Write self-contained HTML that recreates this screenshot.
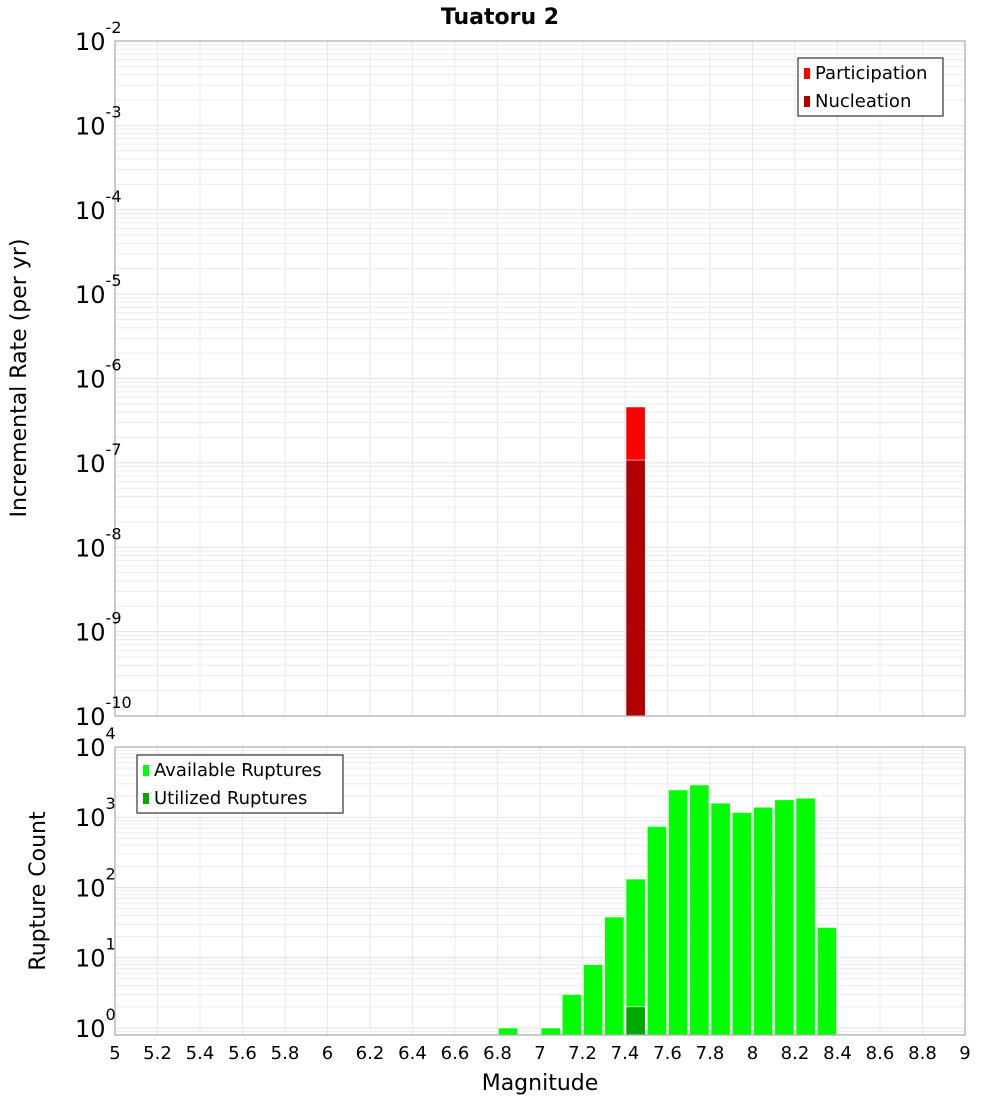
<!DOCTYPE html>
<html><head><meta charset="utf-8"><style>
body{margin:0;background:#fff;width:1000px;height:1100px;overflow:hidden}
svg{display:block;font-family:"DejaVu Sans","Liberation Sans",sans-serif}
</style></head><body>
<svg id="c" width="1000" height="1100" xmlns="http://www.w3.org/2000/svg">
<text x="500" y="24" text-anchor="middle" font-size="22" font-weight="bold">Tuatoru 2</text>
<text transform="translate(26,378) rotate(-90)" text-anchor="middle" font-size="22">Incremental Rate (per yr)</text>
<text transform="translate(45,891) rotate(-90)" text-anchor="middle" font-size="22">Rupture Count</text>
<text x="540" y="1090" text-anchor="middle" font-size="22">Magnitude</text>
<g id="g"></g>
</svg>
<script>
const topMags=[7.4];
const participation=[4.6e-7];
const nucleation=[1.08e-7];
const botMags=[6.8,7.0,7.1,7.2,7.3,7.4,7.5,7.6,7.7,7.8,7.9,8.0,8.1,8.2,8.3];
const available=[1,1,3,8,38,132,740,2450,2880,1590,1170,1390,1770,1870,27];
const utilMags=[7.4];
const utilized=[2];
const xTicks=["5","5.2","5.4","5.6","5.8","6","6.2","6.4","6.6","6.8","7","7.2","7.4","7.6","7.8","8","8.2","8.4","8.6","8.8","9"];
const topDecades=[-2,-3,-4,-5,-6,-7,-8,-9,-10];
const botDecades=[4,3,2,1,0];

const NS="http://www.w3.org/2000/svg";
const g=document.getElementById('g');
const L=115,R=965;
const xs=m=>L+(m-5)*(R-L)/4;
const T1=41,B1=716,ty=v=>T1+(-2-Math.log10(v))*(B1-T1)/8;
const T2=747,B2=1035,d2=(B2-T2)/4.1,by=v=>T2+(4-Math.log10(v))*d2;
function el(t,a,p){const e=document.createElementNS(NS,t);for(const k in a)e.setAttribute(k,a[k]);(p||g).appendChild(e);return e;}

function grid(T,B,yf,lo,hi,nm){
  for(let i=0;i<=20;i++){const x=xs(5+i*0.2);const ln=el('line',{x1:x,x2:x,y1:T,y2:B,stroke:'#e8e8e8','stroke-width':1});
    
    }
  for(let e=lo;e<hi;e++)for(let k=1;k<10;k++){const y=yf(k*Math.pow(10,e));if(y<T||y>B)continue;
    const ln=el('line',{x1:L,x2:R,y1:y,y2:y,stroke:k==1?'#e2e2e2':'#ececec','stroke-width':1});
    
    }
}
grid(T1,B1,ty,-10,-1,'top');
grid(T2,B2,by,-1,5,'bottom');

function bar(x0,v,yf,B,fill,nm){const x=xs(x0)+1,w=xs(x0+0.1)-xs(x0)-2;const y=yf(v);
  const r=el('rect',{x:x,y:y,width:w,height:B-y,fill:fill,stroke:'#fff','stroke-width':0.6});
  
  }
participation.forEach((v,i)=>bar(topMags[i],v,ty,B1,'#ff0000','participation-bar'));
nucleation.forEach((v,i)=>bar(topMags[i],v,ty,B1,'#b00000','nucleation-bar'));
available.forEach((v,i)=>bar(botMags[i],v,by,B2,'#00ff00','available-bar'));
utilized.forEach((v,i)=>bar(utilMags[i],v,by,B2,'#00aa00','utilized-bar'));

[[T1,B1,'top-plot-frame'],[T2,B2,'bottom-plot-frame']].forEach(a=>{const r=el('rect',{x:L,y:a[0],width:R-L,height:a[1]-a[0],fill:'none',stroke:'#aaa','stroke-width':1.2});
  
  });

function ylab(y,e,nm){const t=el('text',{x:104,y:y+9,'text-anchor':'end','font-size':24});
  
  
  const a=el('tspan',{},t);a.textContent='10';const b=el('tspan',{dy:-17,'font-size':16},t);b.textContent=String(e);
  const w=String(e).length*10;t.setAttribute('x',104-w+2);t.setAttribute('text-anchor','end');
  t.removeAttribute('text-anchor');t.setAttribute('x',75);}
topDecades.forEach(e=>ylab(ty(Math.pow(10,e)),e,'top-y-tick-label'));
botDecades.forEach(e=>ylab(by(Math.pow(10,e)),e,'bottom-y-tick-label'));

xTicks.forEach((s,i)=>{const t=el('text',{x:xs(5+i*0.2),y:1059,'text-anchor':'middle','font-size':18});
  
  
  t.textContent=s;});

function legend(x,y,w,items,nm){const b=el('rect',{x:x,y:y,width:w,height:58,fill:'#fff',stroke:'#333','stroke-width':1.2});
  
  
  items.forEach((it,i)=>{const s=el('rect',{x:x+6,y:y+10+i*28,width:6,height:11,fill:it[1]});
    
    
    const t=el('text',{x:x+17,y:y+21+i*28,'font-size':18});
    
    
    t.textContent=it[0];});}
legend(798,58,145,[['Participation','#ff0000'],['Nucleation','#b00000']],'top-legend');
legend(137,755,206,[['Available Ruptures','#00ff00'],['Utilized Ruptures','#00aa00']],'bottom-legend');
</script>
</body></html>
